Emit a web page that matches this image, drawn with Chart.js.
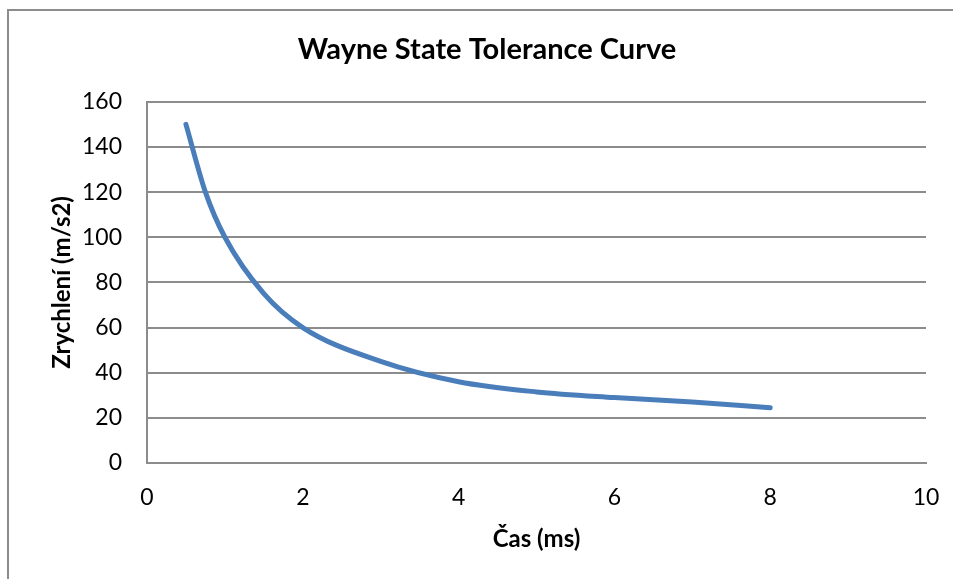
<!DOCTYPE html>
<html>
<head>
<meta charset="utf-8">
<script src="https://cdn.jsdelivr.net/npm/chart.js@4"></script>
<style>
  html, body { margin: 0; padding: 0; background: #fff; }
  #wrap { position: relative; width: 953px; height: 579px; overflow: hidden; }
  #frame { position: absolute; left: 7px; top: 9px; width: 960px; height: 600px; border: 2px solid #8c8c8c; box-sizing: border-box; }
  canvas { position: absolute; left: 0; top: 0; }
</style>
</head>
<body>
<div id="wrap">
  <div id="frame"></div>
  <canvas id="c" width="953" height="579"></canvas>
</div>
<script>
const chartTitle = 'Wayne State Tolerance Curve';
const xTitle = 'Čas (ms)';
const yTitle = 'Zrychlení (m/s2)';
const timeMs = [0.5, 0.75, 1, 1.5, 2, 3, 4, 5, 6, 7, 8];
const accel = [150, 120, 100, 75, 60, 45, 36, 31.5, 29, 27, 24.5];
const xTicks = [0, 2, 4, 6, 8, 10];
const yTicks = [0, 20, 40, 60, 80, 100, 120, 140, 160];

const FONT = 'Lato, "Open Sans", sans-serif';
const points = timeMs.map((x, i) => ({ x: x, y: accel[i] }));

new Chart(document.getElementById('c'), {
  type: 'scatter',
  data: {
    datasets: [{
      data: points,
      showLine: true,
      borderColor: '#4A7EBB',
      borderWidth: 5,
      pointRadius: 0,
      borderCapStyle: 'round',
      borderJoinStyle: 'round',
      cubicInterpolationMode: 'monotone',
      fill: false
    }]
  },
  options: {
    responsive: false,
    animation: false,
    devicePixelRatio: 1,
    layout: { padding: { left: 48, right: 27, top: 0, bottom: 0 } },
    plugins: {
      legend: { display: false },
      tooltip: { enabled: false },
      title: {
        display: true,
        text: chartTitle,
        color: '#000',
        font: { family: FONT, size: 29, weight: 'bold', lineHeight: 1.2 },
        padding: { top: 32, bottom: 35 }
      }
    },
    scales: {
      x: {
        type: 'linear',
        min: 0, max: 10,
        afterBuildTicks: s => { s.ticks = xTicks.map(v => ({ value: v })); },
        afterFit: s => { s.height = 116; s.paddingLeft = 0; s.paddingRight = 0; },
        grid: { display: false, drawTicks: false },
        border: { display: true, color: '#8c8c8c', width: 2 },
        ticks: { color: '#000', font: { family: FONT, size: 23 }, padding: 21, maxRotation: 0 },
        title: {
          display: true, text: xTitle, color: '#000',
          font: { family: FONT, size: 24, weight: 'bold', lineHeight: 1.2 },
          padding: { top: 0, bottom: 25 }
        }
      },
      y: {
        type: 'linear',
        min: 0, max: 160,
        afterBuildTicks: s => { s.ticks = yTicks.map(v => ({ value: v })); },
        afterFit: s => { s.width = 99; },
        grid: { color: '#8c8c8c', lineWidth: 2, drawTicks: false },
        border: { display: true, color: '#8c8c8c', width: 2 },
        ticks: { color: '#000', font: { family: FONT, size: 23 }, padding: 25 },
        title: {
          display: true, text: yTitle, color: '#000',
          font: { family: FONT, size: 24, weight: 'bold', lineHeight: 1.2 },
          padding: { top: 0, bottom: 0 }
        }
      }
    }
  }
});
</script>
</body>
</html>
